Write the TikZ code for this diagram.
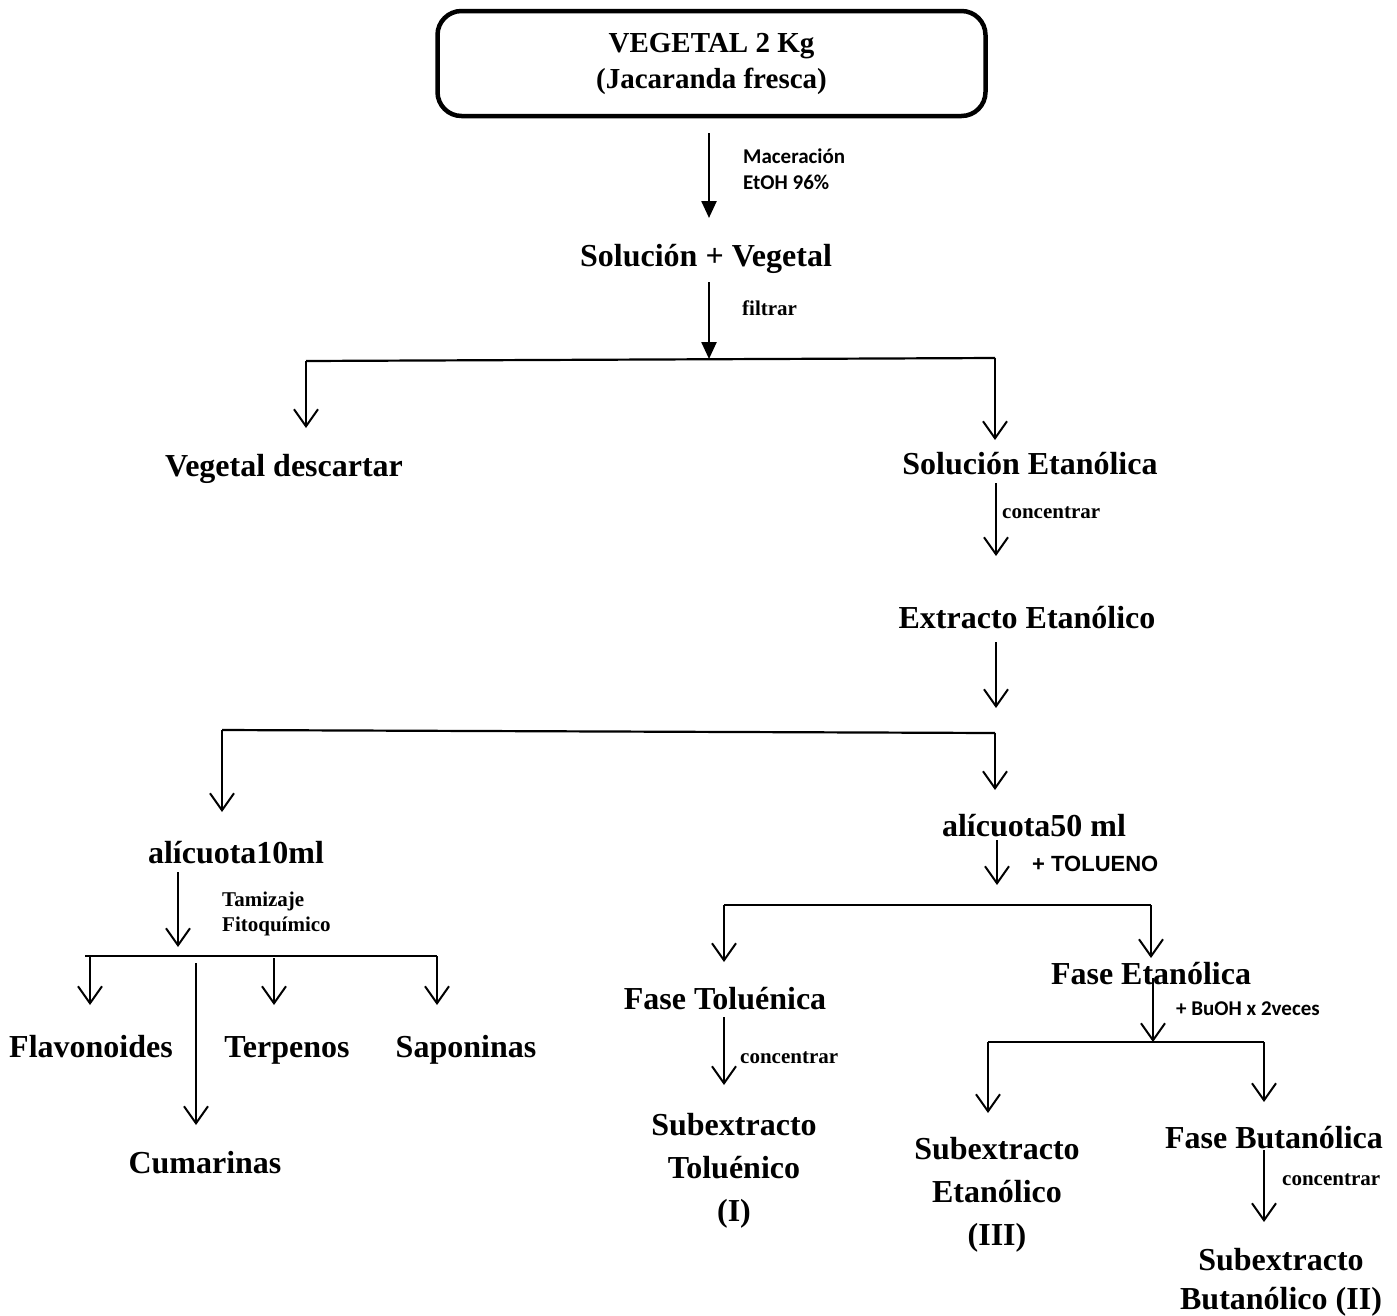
\documentclass[tikz,border=0pt]{standalone}
\usepackage{fontspec}
\setmainfont{Liberation Serif}
\newfontfamily\califont{Carlito}
\newfontfamily\arialfont{Liberation Sans}
\usetikzlibrary{arrows.meta}
\begin{document}
\begin{tikzpicture}[x=1pt,y=-1pt,
  lbl/.style={inner sep=0pt, align=center, font=\fontsize{32}{43}\selectfont\bfseries},
  lb/.style={lbl, anchor=base},
  note/.style={inner sep=0pt, align=left, anchor=west, font=\fontsize{21}{25}\selectfont\bfseries},
  cnote/.style={inner sep=0pt, align=left, anchor=west, font=\califont\fontsize{21}{26}\selectfont\bfseries},
  snote/.style={inner sep=0pt, anchor=west, font=\arialfont\fontsize{22}{24}\selectfont\bfseries},
  ar/.style={line width=2pt, -{Straight Barb[length=17pt,width=24pt]}},
  far/.style={line width=2.4pt, -{Triangle[length=17pt,width=15pt]}},
  ln/.style={line width=2.2pt},
]
\useasboundingbox (0,0) rectangle (1397,1315);

% top box
\node[draw, line width=4.5pt, rounded corners=24pt, minimum width=548pt, minimum height=105pt,
      inner sep=0pt, align=center, font=\fontsize{29}{36}\selectfont\bfseries] (box) at (711.5,63.5)
      {VEGETAL 2 Kg\\(Jacaranda fresca)};

\coordinate (m1) at (709,133); \coordinate (m2) at (709,218);
\draw[far] (m1) -- (m2);
\node[cnote] (mac) at (743,169) {Maceración\\EtOH 96\%};

\node[lb] (sv) at (706,266) {Solución + Vegetal};
\coordinate (f1) at (709,282); \coordinate (j1) at (709,359);
\draw[far] (f1) -- (j1);
\node[note] (fil) at (742,308) {filtrar};

% first split
\coordinate (j1l) at (306,361); \coordinate (j1r) at (995,358);
\coordinate (vdin) at (306,428); \coordinate (sein) at (995,440);
\draw[ln] (j1l) -- (j1r);
\draw[ar] (j1l) -- (vdin);
\draw[ar] (j1r) -- (sein);
\node[lb] (vd) at (284,476) {Vegetal descartar};
\node[lb] (se) at (1030,474) {Solución Etanólica};

\coordinate (c1) at (996,483); \coordinate (c2) at (996,556);
\draw[ar] (c1) -- (c2);
\node[note] (conc1) at (1002,513) {concentrar};
\node[lb] (ee) at (1027,628) {Extracto Etanólico};
\coordinate (e1) at (996,642); \coordinate (e2) at (996,708);
\draw[ar] (e1) -- (e2);

% second split
\coordinate (j2l) at (222,730); \coordinate (j2r) at (995,733);
\coordinate (a10in) at (222,812); \coordinate (a50in) at (995,790);
\draw[ln] (j2l) -- (j2r);
\draw[ar] (j2l) -- (a10in);
\draw[ar] (j2r) -- (a50in);
\node[lb] (a10) at (236,863) {alícuota10ml};
\node[lb] (a50) at (1034,836) {alícuota50 ml};

% left branch: screening
\coordinate (t1) at (178,872); \coordinate (t2) at (178,947);
\draw[ar] (t1) -- (t2);
\node[note] (tam) at (222,914) {Tamizaje\\Fitoquímico};
\coordinate (j3l) at (85,956); \coordinate (j3r) at (437,956);
\draw[ln] (j3l) -- (j3r);
\coordinate (fl0) at (90,956); \coordinate (fl1) at (90,1005);
\coordinate (te0) at (274,958); \coordinate (te1) at (274,1005);
\coordinate (sa1) at (437,1005);
\coordinate (cu0) at (196,963); \coordinate (cu1) at (196,1125);
\draw[ar] (fl0) -- (fl1);
\draw[ar] (te0) -- (te1);
\draw[ar] (j3r) -- (sa1);
\draw[ar] (cu0) -- (cu1);
\node[lb] (flav) at (91,1057) {Flavonoides};
\node[lb] (terp) at (287,1057) {Terpenos};
\node[lb] (sap) at (466,1057) {Saponinas};
\node[lb] (cum) at (205,1173) {Cumarinas};

% right branch: toluene partition
\coordinate (u1) at (997,840); \coordinate (u2) at (997,885);
\draw[ar] (u1) -- (u2);
\node[snote] (tol) at (1032,864) {+ TOLUENO};
\coordinate (j4l) at (724,905); \coordinate (j4r) at (1151,905);
\coordinate (ftin) at (724,962); \coordinate (fein) at (1151,958);
\draw[ln] (j4l) -- (j4r);
\draw[ar] (j4l) -- (ftin);
\draw[ar] (j4r) -- (fein);
\node[lb] (ft) at (725,1009) {Fase Toluénica};
\node[lb] (fe) at (1151,984) {Fase Etanólica};

\coordinate (k1) at (724,1017); \coordinate (k2) at (724,1085);
\draw[ar] (k1) -- (k2);
\node[note] (conc2) at (740,1058) {concentrar};
\node[lbl] (st) at (734,1171) {Subextracto\\Toluénico\\(I)};

\coordinate (b1) at (1153,978); \coordinate (j5) at (1153,1042);
\draw[ar] (b1) -- (j5);
\node[cnote] (buoh) at (1176,1009) {+ BuOH x 2veces};
\coordinate (j5l) at (988,1042); \coordinate (j5r) at (1264,1042);
\coordinate (sein2) at (988,1113); \coordinate (fbin) at (1264,1102);
\draw[ln] (j5l) -- (j5r);
\draw[ar] (j5l) -- (sein2);
\draw[ar] (j5r) -- (fbin);
\node[lbl] (sete) at (997,1195) {Subextracto\\Etanólico\\(III)};
\node[lb] (fb) at (1274,1148) {Fase Butanólica};
\coordinate (n1) at (1264,1150); \coordinate (n2) at (1264,1222);
\draw[ar] (n1) -- (n2);
\node[note] (conc3) at (1282,1180) {concentrar};
\node[lbl, font=\fontsize{32}{39}\selectfont\bfseries] (sb) at (1281,1282) {Subextracto\\Butanólico (II)};

\end{tikzpicture}
\end{document}
